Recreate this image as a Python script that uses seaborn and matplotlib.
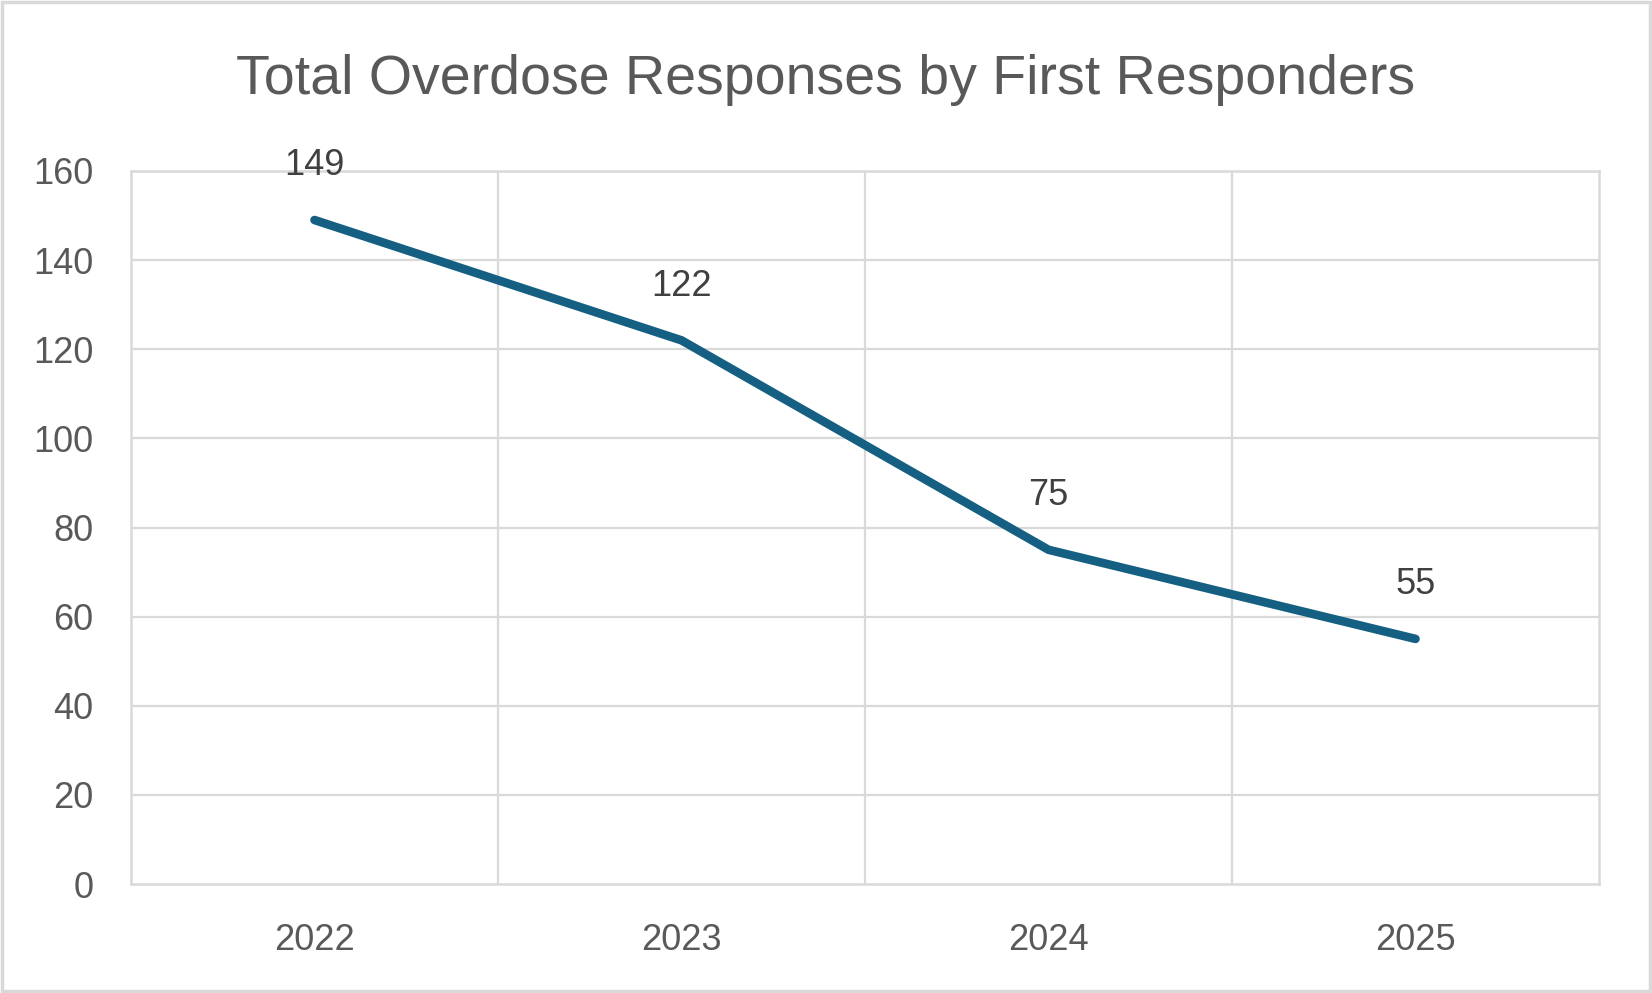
import matplotlib
matplotlib.use("Agg")
import matplotlib.pyplot as plt
import seaborn as sns
import pandas as pd

years = ["2022", "2023", "2024", "2025"]
responses = [149, 122, 75, 55]
y_ticks = [0, 20, 40, 60, 80, 100, 120, 140, 160]
title = "Total Overdose Responses by First Responders"

sns.set_theme(style="white")
plt.rcParams['font.family'] = ['Liberation Sans', 'DejaVu Sans']

df = pd.DataFrame({"x": range(len(years)), "year": years, "value": responses})

fig = plt.figure(figsize=(16.52, 9.93), dpi=100)
ax = fig.add_axes([131/1652, 1 - 884/993, (1599-131)/1652, (884-171)/993])

grid_c = "#D9D9D9"
sns.lineplot(data=df, x="x", y="value", ax=ax, color="#156082", linewidth=6.2,
             solid_capstyle="round", solid_joinstyle="round", zorder=3)

ax.set_xlim(-0.5, len(years) - 0.5)
ax.set_ylim(0, 160)
ax.set_yticks(y_ticks)
ax.set_yticklabels([str(t) for t in y_ticks])
ax.set_xticks(range(len(years)))
ax.set_xticklabels(years)
ax.set_xlabel("")
ax.set_ylabel("")

for t in y_ticks[1:]:
    ax.axhline(t, color=grid_c, linewidth=1.6, zorder=1)
for b in [0.5, 1.5, 2.5]:
    ax.axvline(b, color=grid_c, linewidth=1.6, zorder=1)
for s in ax.spines.values():
    s.set_color(grid_c)
    s.set_linewidth(1.8)

ax.tick_params(axis="both", length=0, labelsize=26, labelcolor="#595959")
ax.tick_params(axis="y", pad=27)
ax.tick_params(axis="x", pad=28)

for i, v in enumerate(responses):
    ax.annotate(str(v), (i, v), xytext=(0, 39), textcoords="offset points",
                ha="center", va="center", fontsize=26, color="#404040", zorder=4)

fig.text(0.5, 1 - 80/993, title, ha="center", va="center", fontsize=40,
         color="#595959")

fig.patches.append(plt.Rectangle((0.0015, 0.002), 0.997, 0.996, transform=fig.transFigure,
                                 fill=False, edgecolor="#D9D9D9", linewidth=2.5))

fig.savefig("out.png", dpi=100)
